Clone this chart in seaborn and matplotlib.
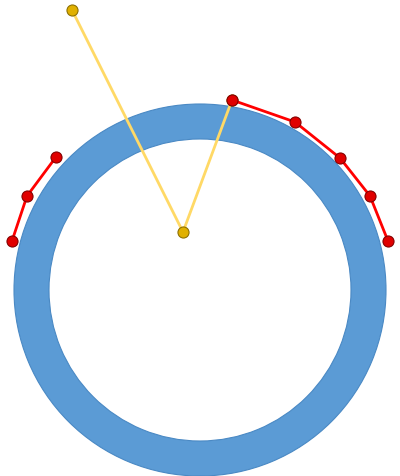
import matplotlib
matplotlib.use("Agg")
import matplotlib.pyplot as plt
from matplotlib.patches import Wedge
import seaborn as sns
import pandas as pd

# ring (pixel space)
ring_center = (200, 290)
ring_outer = 186
ring_inner = 151

# red series, left and right groups
red_left_x = [12, 27, 56]
red_left_y = [241, 196, 157]
red_right_x = [232, 295, 340, 370, 388]
red_right_y = [100, 122, 158, 196, 241]

# yellow needle
yellow_x = [72, 183, 232]
yellow_y = [10, 232, 100]

sns.set_style("white")
fig = plt.figure(figsize=(4.0, 4.76), dpi=100)
ax = fig.add_axes([0, 0, 1, 1])
ax.set_xlim(0, 400)
ax.set_ylim(476, 0)
ax.set_aspect("equal")
ax.axis("off")

ax.add_patch(Wedge(ring_center, ring_outer, 0, 360, width=ring_outer - ring_inner,
                   facecolor="#5b9bd5", edgecolor="#4a89c4", lw=0.8))

df_y = pd.DataFrame({"x": yellow_x, "y": yellow_y})
sns.lineplot(data=df_y, x="x", y="y", sort=False, ax=ax, color="#ffd966", lw=2,
             marker="o", markersize=8, markerfacecolor="#e0b000", markeredgecolor="#8a6d00")

for xs, ys in [(red_left_x, red_left_y), (red_right_x, red_right_y)]:
    d = pd.DataFrame({"x": xs, "y": ys})
    sns.lineplot(data=d, x="x", y="y", sort=False, ax=ax, color="#ff0000", lw=2,
                 marker="o", markersize=8, markerfacecolor="#e00000", markeredgecolor="#800000")

ax.set_xlabel("")
ax.set_ylabel("")
fig.savefig("out.png", dpi=100)
